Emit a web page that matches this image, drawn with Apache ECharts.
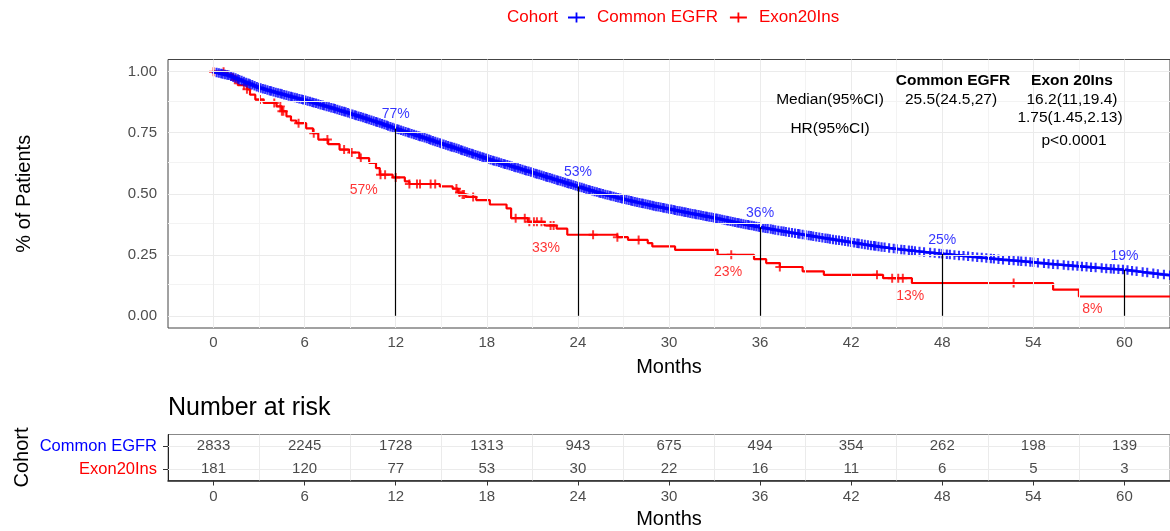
<!DOCTYPE html>
<html>
<head>
<meta charset="utf-8">
<script src="https://cdn.jsdelivr.net/npm/echarts@6/dist/echarts.min.js"></script>
<style>
html,body{margin:0;padding:0;background:#fff;}
#chart{width:1170px;height:531px;}
</style>
</head>
<body>
<div id="chart"></div>
<script>
// ---------------- DATA ----------------
const cohorts = ['Common EGFR', 'Exon20Ins'];
const monthTicks = [0, 6, 12, 18, 24, 30, 36, 42, 48, 54, 60];
const survTicks = [0, 0.25, 0.5, 0.75, 1];

// Common EGFR KM curve
const blueTime = [0,1,2,3,4,5,6,7,8,9,10,11,12,13,14,15,16,17,18,19,20,21,22,23,24,25,26,27,28,29,30,31,32,33,34,35,36,37,38,39,40,41,42,43,44,45,46,47,48,49,50,51,52,53,54,55,56,57,58,59,60,61,62,63];
const blueSurv = [1.000,0.985,0.960,0.935,0.917,0.900,0.884,0.866,0.848,0.829,0.809,0.789,0.767,0.747,0.727,0.706,0.686,0.665,0.644,0.625,0.606,0.587,0.568,0.549,0.530,0.511,0.494,0.478,0.464,0.450,0.438,0.425,0.413,0.401,0.388,0.375,0.363,0.352,0.341,0.331,0.321,0.311,0.301,0.291,0.282,0.274,0.267,0.260,0.254,0.248,0.242,0.236,0.230,0.225,0.219,0.213,0.208,0.203,0.198,0.193,0.189,0.181,0.173,0.166];
const blueCensor = [0.2,0.35,0.5,0.6,0.75,0.9,1.0,1.15,1.3,1.45,1.6,1.7,1.85,2.0,2.15,2.3,2.4,2.55,2.7,2.85,3.0,3.1,3.25,3.4,3.55,3.7,3.8,3.95,4.1,4.25,4.4,4.5,4.65,4.8,4.95,5.1,5.2,5.35,5.5,5.65,5.8,5.9,6.05,6.2,6.35,6.5,6.6,6.75,6.9,7.05,7.2,7.3,7.45,7.6,7.75,7.9,8.0,8.15,8.3,8.45,8.6,8.7,8.85,9.0,9.15,9.3,9.4,9.55,9.7,9.85,10.0,10.1,10.25,10.4,10.55,10.7,10.8,10.95,11.1,11.25,11.4,11.5,11.65,11.8,11.95,12.1,12.2,12.35,12.5,12.65,12.8,12.9,13.05,13.2,13.35,13.5,13.6,13.75,13.9,14.05,14.2,14.3,14.45,14.6,14.75,14.9,15.0,15.15,15.3,15.45,15.6,15.7,15.85,16.0,16.15,16.3,16.4,16.55,16.7,16.85,17.0,17.1,17.25,17.4,17.55,17.7,17.8,17.95,18.1,18.25,18.4,18.5,18.65,18.8,18.95,19.1,19.2,19.35,19.5,19.65,19.8,19.9,20.05,20.2,20.35,20.5,20.6,20.75,20.9,21.05,21.2,21.3,21.45,21.6,21.75,21.9,22.0,22.15,22.3,22.45,22.6,22.7,22.85,23.0,23.15,23.3,23.4,23.55,23.7,23.85,24.0,24.1,24.25,24.4,24.55,24.7,24.8,24.95,25.1,25.25,25.4,25.5,25.65,25.8,25.95,26.1,26.2,26.35,26.5,26.65,26.8,26.9,27.05,27.2,27.35,27.5,27.6,27.75,27.9,28.05,28.2,28.3,28.45,28.6,28.75,28.9,29.0,29.15,29.3,29.45,29.6,29.7,29.85,30.0,30.15,30.3,30.4,30.55,30.7,30.85,31.0,31.1,31.25,31.4,31.55,31.7,31.8,31.95,32.1,32.25,32.4,32.5,32.65,32.8,32.95,33.1,33.2,33.35,33.5,33.65,33.8,33.9,34.05,34.2,34.35,34.5,34.6,34.75,34.9,35.05,35.2,35.3,35.45,35.6,35.75,35.9,36.0,36.2,36.35,36.5,36.7,36.85,37.0,37.2,37.4,37.55,37.7,37.9,38.1,38.3,38.5,38.6,38.8,39.0,39.2,39.35,39.5,39.7,39.9,40.1,40.3,40.45,40.6,40.8,41.0,41.2,41.4,41.6,41.8,42.0,42.2,42.4,42.5,42.7,42.9,43.1,43.3,43.5,43.6,43.8,44.0,44.2,44.5,44.8,45.0,45.3,45.5,45.8,46.0,46.2,46.5,46.8,47.2,47.5,47.8,48.0,48.3,48.5,48.8,49.1,49.4,49.7,50.0,50.3,50.6,50.9,51.2,51.4,51.7,52.0,52.4,52.7,53.0,53.2,53.5,53.8,54.0,54.3,54.7,55.0,55.3,55.6,56.0,56.3,56.6,56.9,57.2,57.5,57.8,58.1,58.5,58.8,59.1,59.3,59.6,59.9,60.2,60.5,60.8,61.2,61.5,61.9,62.2,62.6,63.0];

// Exon20Ins KM step curve
const redTime = [0,0.9,1.3,1.6,2.2,2.4,2.75,3.3,4.15,4.5,4.8,5.1,5.45,6.1,6.55,6.9,7.55,8.3,8.95,9.6,10.25,10.7,10.95,11.8,12.6,12.9,14.9,15.75,16.1,16.3,16.6,17.3,18.2,19.3,19.6,20.7,21.8,22.6,23.3,26.6,27.3,28.6,28.9,30.4,33.2,35.6,36.4,37.3,38.8,40.2,44.1,46.0,55.3,57.0,63.0];
const redSurv = [1.000,0.989,0.967,0.945,0.928,0.906,0.886,0.872,0.858,0.838,0.817,0.800,0.789,0.768,0.748,0.722,0.703,0.681,0.669,0.646,0.626,0.605,0.578,0.567,0.551,0.540,0.530,0.521,0.505,0.497,0.487,0.474,0.456,0.440,0.400,0.385,0.370,0.357,0.332,0.322,0.311,0.298,0.284,0.270,0.250,0.232,0.216,0.200,0.182,0.168,0.154,0.134,0.107,0.079,0.079];
const redCensor = [0,0.66,1.4,1.5,2.0,2.2,3.06,4.0,4.4,4.5,4.6,5.6,6.6,7.5,8.6,9.1,9.7,11.0,11.3,12.0,12.9,13.4,13.6,14.3,14.6,16.0,16.2,16.4,16.5,17.1,19.9,20.5,20.8,21.1,21.3,21.6,22.2,22.4,25.0,26.6,28.0,34.1,37.3,43.7,44.7,45.1,45.4,52.7];

// Landmarks
const landmarkMonths = [12, 24, 36, 48, 60];
const blueLandmark = [0.767, 0.530, 0.363, 0.254, 0.189];
const redLandmark = [0.567, 0.332, 0.232, 0.134, 0.079];

// Number at risk
const riskMonths = [0, 6, 12, 18, 24, 30, 36, 42, 48, 54, 60];
const riskCommon = [2833, 2245, 1728, 1313, 943, 675, 494, 354, 262, 198, 139];
const riskExon = [181, 120, 77, 53, 30, 22, 16, 11, 6, 5, 3];

// ---------------- HELPERS ----------------
function linAt(ts, ss, t) {
  for (let i = 0; i < ts.length - 1; i++) {
    if (t >= ts[i] && t <= ts[i + 1]) {
      const f = (t - ts[i]) / (ts[i + 1] - ts[i]);
      return ss[i] + f * (ss[i + 1] - ss[i]);
    }
  }
  return ss[ss.length - 1];
}
function stepAt(ts, ss, t) {
  let v = ss[0];
  for (let i = 0; i < ts.length; i++) { if (ts[i] <= t) v = ss[i]; }
  return v;
}

const BLUE = '#0000FF', RED = '#FF0000';
const FONT = "'Liberation Sans', Arial, sans-serif";
const plusPath = 'path://M3.9,0L6.1,0L6.1,3.9L10,3.9L10,6.1L6.1,6.1L6.1,10L3.9,10L3.9,6.1L0,6.1L0,3.9L3.9,3.9Z';
const legendPath = 'path://M0,4.1L7.6,4.1L7.6,0L9.4,0L9.4,4.1L17,4.1L17,5.9L9.4,5.9L9.4,10L7.6,10L7.6,5.9L0,5.9Z';
const MAJ = '#EBEBEB', MIN = '#F3F3F3';

const blueLine = blueTime.map((t, i) => [t, blueSurv[i]]);
const redLine = redTime.map((t, i) => [t, redSurv[i]]);
const blueCens = blueCensor.map(t => [t, linAt(blueTime, blueSurv, t)]);
const redCens = redCensor.map(t => [t, stepAt(redTime, redSurv, t)]);

const majorX = monthTicks.map(v => ({ xAxis: v, lineStyle: { color: MAJ } }));
const minorX = [3, 9, 15, 21, 27, 33, 39, 45, 51, 57].map(v => ({ xAxis: v, lineStyle: { color: MIN } }));
const majorY = survTicks.map(v => ({ yAxis: v, lineStyle: { color: MAJ } }));
const minorY = [0.125, 0.375, 0.625, 0.875].map(v => ({ yAxis: v, lineStyle: { color: MIN } }));

const riskData = [];
riskMonths.forEach((m, i) => {
  riskData.push([m, cohorts[0], riskCommon[i]]);
  riskData.push([m, cohorts[1], riskExon[i]]);
});

const tickStyle = { color: '#333', width: 1 };
const labelStyle = { color: '#4D4D4D', fontSize: 15, fontFamily: FONT };
const txt = (x, y, text, font) => ({ type: 'text', x: x, y: y, z: 100, style: { text: text, fill: '#000', font: font, align: 'center', verticalAlign: 'middle' } });

const chart = echarts.init(document.getElementById('chart'), null, { renderer: 'canvas' });
chart.setOption({
  animation: false,
  backgroundColor: '#fff',
  textStyle: { fontFamily: FONT },
  legend: {
    left: 568, top: 9, padding: 0, itemGap: 12, itemWidth: 17, itemHeight: 10,
    textStyle: { color: RED, fontSize: 17, fontFamily: FONT, padding: [0, 0, 0, 7] },
    data: [
      { name: cohorts[0], icon: legendPath, itemStyle: { color: BLUE } },
      { name: cohorts[1], icon: legendPath, itemStyle: { color: RED } }
    ]
  },
  grid: [
    { left: 168, top: 59.5, width: 1008, height: 268.5, show: true, borderColor: '#444', borderWidth: 1, backgroundColor: '#fff' },
    { left: 168, top: 434.5, width: 1008, height: 46, show: true, borderColor: '#888', borderWidth: 1, backgroundColor: '#fff' }
  ],
  xAxis: [
    {
      type: 'value', gridIndex: 0, min: -3, max: 63,
      axisLine: { show: false },
      splitLine: { show: false },
      axisTick: { show: true, length: 5, lineStyle: tickStyle, customValues: monthTicks },
      axisLabel: Object.assign({ margin: 7, customValues: monthTicks, formatter: v => String(v) }, labelStyle),
      name: 'Months', nameLocation: 'middle', nameGap: 29,
      nameTextStyle: { color: '#000', fontSize: 20, fontFamily: FONT }
    },
    {
      type: 'value', gridIndex: 1, min: -3, max: 63,
      axisLine: { show: true, onZero: false, lineStyle: { color: '#222', width: 1.5 } },
      splitLine: { show: false },
      axisTick: { show: true, length: 5, lineStyle: tickStyle, customValues: monthTicks },
      axisLabel: Object.assign({ margin: 9, customValues: monthTicks, formatter: v => String(v) }, labelStyle),
      name: 'Months', nameLocation: 'middle', nameGap: 29,
      nameTextStyle: { color: '#000', fontSize: 20, fontFamily: FONT }
    }
  ],
  yAxis: [
    {
      type: 'value', gridIndex: 0, min: -0.05, max: 1.05,
      axisLine: { show: false },
      splitLine: { show: false },
      axisTick: { show: true, length: 5, lineStyle: tickStyle, customValues: survTicks },
      axisLabel: Object.assign({ margin: 11, customValues: survTicks, formatter: v => v.toFixed(2) }, labelStyle),
      name: '% of Patients', nameLocation: 'middle', nameGap: 134, nameRotate: 90,
      nameTextStyle: { color: '#000', fontSize: 20, fontFamily: FONT }
    },
    {
      type: 'category', gridIndex: 1, data: [cohorts[1], cohorts[0]],
      axisLine: { show: true, onZero: false, lineStyle: { color: '#222', width: 1 } },
      splitLine: { show: false },
      axisTick: { show: true, alignWithLabel: true, length: 5, lineStyle: tickStyle },
      axisLabel: {
        margin: 11, fontSize: 16.5, fontFamily: FONT,
        formatter: v => v === cohorts[0] ? '{b|' + v + '}' : '{r|' + v + '}',
        rich: { b: { color: BLUE, fontSize: 16.5, fontFamily: FONT }, r: { color: RED, fontSize: 16.5, fontFamily: FONT } }
      },
      name: 'Cohort', nameLocation: 'middle', nameGap: 136, nameRotate: 90, nameMoveOverlap: false,
      nameTextStyle: { color: '#000', fontSize: 20, fontFamily: FONT }
    }
  ],
  graphic: [
    { type: 'text', left: 507, top: 9, z: 100, style: { text: 'Cohort', fill: RED, font: '17px ' + FONT } },
    { type: 'text', x: 168, y: 408, z: 100, style: { text: 'Number at risk', fill: '#000', font: '25px ' + FONT, verticalAlign: 'middle' } },
    txt(953, 81, 'Common EGFR', 'bold 15.5px ' + FONT),
    txt(1072, 81, 'Exon 20Ins', 'bold 15.5px ' + FONT),
    txt(830, 100, 'Median(95%CI)', '15.5px ' + FONT),
    txt(951, 100, '25.5(24.5,27)', '15.5px ' + FONT),
    txt(1072, 100, '16.2(11,19.4)', '15.5px ' + FONT),
    txt(1070, 118, '1.75(1.45,2.13)', '15.5px ' + FONT),
    txt(830, 129, 'HR(95%CI)', '15.5px ' + FONT),
    txt(1074, 141, 'p<0.0001', '15.5px ' + FONT)
  ],
  series: [
    { // grid lines main panel
      type: 'line', xAxisIndex: 0, yAxisIndex: 0, data: [[0, 1]], symbol: 'none',
      lineStyle: { opacity: 0 }, z: 1, silent: true,
      markLine: { silent: true, symbol: ['none', 'none'], label: { show: false },
        lineStyle: { type: 'solid', width: 1 },
        data: minorX.concat(minorY, majorX, majorY) }
    },
    { // grid lines risk table
      type: 'line', xAxisIndex: 1, yAxisIndex: 1, data: [], symbol: 'none',
      lineStyle: { opacity: 0 }, z: 1, silent: true,
      markLine: { silent: true, symbol: ['none', 'none'], label: { show: false },
        lineStyle: { type: 'solid', width: 1, color: MAJ },
        data: [3, 9, 15, 21, 27, 33, 39, 45, 51, 57].map(v => ({ xAxis: v }))
          .concat([{ yAxis: cohorts[0] }, { yAxis: cohorts[1] }]) }
    },
    {
      name: cohorts[1], type: 'line', xAxisIndex: 0, yAxisIndex: 0, data: redLine,
      step: 'end', symbol: 'none', color: RED, lineStyle: { color: RED, width: 2.2 }, z: 3
    },
    {
      type: 'scatter', xAxisIndex: 0, yAxisIndex: 0, data: redCens,
      symbol: plusPath, symbolSize: 9, itemStyle: { color: RED }, z: 3, silent: true
    },
    {
      name: cohorts[0], type: 'line', xAxisIndex: 0, yAxisIndex: 0, data: blueLine,
      symbol: 'none', color: BLUE, lineStyle: { color: BLUE, width: 2.5 }, z: 4
    },
    {
      type: 'scatter', xAxisIndex: 0, yAxisIndex: 0, data: blueCens,
      symbol: plusPath, symbolSize: 9.5, itemStyle: { color: BLUE }, z: 4, silent: true
    },
    { // landmark lines + blue labels
      type: 'scatter', xAxisIndex: 0, yAxisIndex: 0,
      data: landmarkMonths.map((m, i) => [m, blueLandmark[i]]),
      symbolSize: 0, z: 5, silent: true,
      label: { show: true, position: 'top', distance: 7, color: BLUE, fontSize: 14, fontFamily: FONT,
        formatter: p => Math.round(p.value[1] * 100) + '%' },
      markLine: { silent: true, symbol: ['none', 'none'], label: { show: false },
        lineStyle: { type: 'solid', width: 1.2, color: '#000' },
        data: landmarkMonths.map((m, i) => [{ coord: [m, blueLandmark[i]] }, { coord: [m, 0] }]) }
    },
    { // red labels
      type: 'scatter', xAxisIndex: 0, yAxisIndex: 0,
      data: landmarkMonths.map((m, i) => [m, redLandmark[i]]),
      symbolSize: 0, z: 5, silent: true,
      label: { show: true, position: 'inside', offset: [-32, 13], color: RED, fontSize: 14, fontFamily: FONT,
        formatter: p => Math.round(p.value[1] * 100) + '%' }
    },
    { // numbers at risk
      type: 'scatter', xAxisIndex: 1, yAxisIndex: 1, data: riskData,
      symbolSize: 0, z: 5, silent: true,
      label: { show: true, position: 'inside', color: '#1a1a1a', fontSize: 15, fontFamily: FONT,
        formatter: p => String(p.value[2]) }
    }
  ]
});
</script>
</body>
</html>
